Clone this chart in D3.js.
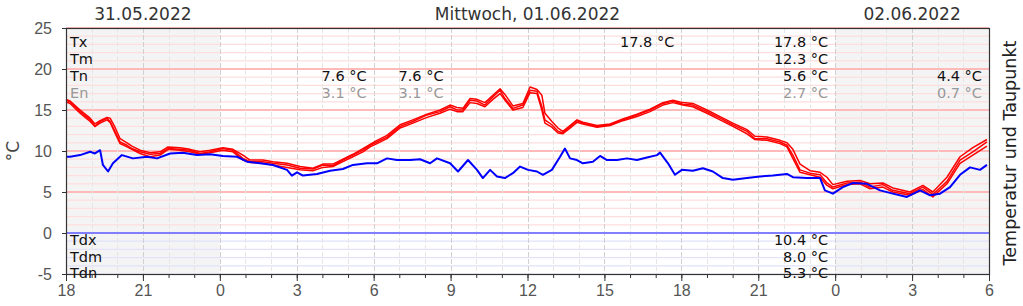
<!DOCTYPE html>
<html>
<head>
<meta charset="utf-8">
<script src="https://cdn.jsdelivr.net/npm/d3@7"></script>
<style>
  body { margin: 0; background: #fff; }
  svg { display: block; font-family: "DejaVu Sans", sans-serif; }
</style>
</head>
<body>
<div id="chart"></div>
<script>
// hours after 31.05.2022 18:00
var tempHours = [0.00, 0.16, 0.55, 0.94, 1.13, 1.33, 1.60, 1.72, 1.91, 2.11, 2.38, 2.57, 2.89, 3.28, 3.67, 3.98,
  4.45, 4.84, 5.23, 5.62, 6.12, 6.51, 6.90, 7.18, 7.68, 8.07, 8.62, 9.13, 9.63, 10.02, 10.41, 10.80,
  11.19, 11.58, 11.86, 12.13, 12.52, 13.03, 13.53, 14.08, 14.59, 14.98, 15.25, 15.48, 15.76, 16.03, 16.34, 16.65,
  16.93, 17.12, 17.43, 17.82, 18.10, 18.37, 18.56, 18.68, 18.95, 19.19, 19.38, 19.66, 19.93, 20.16, 20.71, 21.22,
  21.72, 22.27, 22.78, 23.28, 23.67, 24.06, 24.45, 25.00, 25.51, 26.01, 26.56, 26.87, 27.34, 27.85, 28.12, 28.35,
  28.63, 29.02, 29.41, 29.68, 29.91, 30.46, 30.97, 31.36, 31.86, 32.25, 32.92, 33.42, 33.81, 34.36, 34.87, 35.37, 35.92];

var tempMain = [16.2, 16.0, 14.8, 13.8, 13.0, 13.6, 14.0, 13.6, 12.4, 11.1, 10.7, 10.3, 9.9, 9.6, 9.7, 10.3,
  10.2, 10.1, 9.7, 9.9, 10.3, 10.1, 9.1, 8.7, 8.7, 8.5, 8.3, 7.9, 7.8, 8.3, 8.2, 8.9,
  9.5, 10.1, 10.7, 11.1, 11.7, 13.0, 13.6, 14.4, 14.8, 15.4, 15.0, 15.0, 16.2, 16.1, 15.6, 16.6,
  17.4, 16.4, 15.2, 15.6, 17.4, 17.3, 15.4, 13.8, 13.2, 12.4, 12.2, 13.0, 13.7, 13.4, 13.0, 13.2,
  13.8, 14.4, 15.0, 15.8, 16.1, 15.7, 15.6, 14.8, 14.0, 13.2, 12.4, 11.5, 11.5, 11.1, 10.7, 9.5,
  7.7, 7.3, 7.1, 6.1, 5.6, 6.1, 6.2, 5.6, 5.9, 5.2, 4.8, 5.6, 4.7, 6.3, 8.9, 9.9, 11.1];

var tempHigh = [16.3, 16.1, 15.0, 14.0, 13.3, 13.7, 14.1, 14.0, 12.9, 11.5, 11.0, 10.6, 10.1, 9.8, 9.9, 10.5,
  10.4, 10.2, 9.9, 10.1, 10.4, 10.2, 9.5, 8.9, 8.9, 8.7, 8.5, 8.1, 7.9, 8.4, 8.4, 9.0,
  9.6, 10.3, 10.8, 11.3, 11.9, 13.2, 13.8, 14.5, 15.0, 15.6, 15.3, 15.2, 16.4, 16.3, 15.9, 16.8,
  17.6, 16.9, 15.5, 15.8, 17.8, 17.5, 16.8, 14.6, 13.6, 12.8, 12.4, 13.1, 13.8, 13.5, 13.1, 13.3,
  13.9, 14.5, 15.1, 15.9, 16.2, 15.9, 15.8, 15.0, 14.2, 13.4, 12.6, 11.8, 11.7, 11.3, 11.0, 10.2,
  8.4, 7.6, 7.4, 6.8, 5.9, 6.3, 6.4, 6.0, 6.1, 5.5, 5.0, 5.8, 5.0, 6.8, 9.3, 10.4, 11.4];

var tempLow = [16.0, 15.8, 14.6, 13.6, 13.0, 13.4, 13.8, 13.5, 12.2, 10.9, 10.5, 10.2, 9.7, 9.3, 9.5, 10.2,
  10.1, 9.9, 9.6, 9.8, 10.1, 9.9, 8.9, 8.6, 8.5, 8.3, 8.0, 7.7, 7.6, 8.0, 8.1, 8.7,
  9.3, 9.9, 10.5, 10.9, 11.5, 12.8, 13.4, 14.1, 14.6, 15.1, 14.8, 14.8, 15.9, 15.8, 15.4, 16.3,
  17.0, 16.2, 15.0, 15.3, 17.1, 17.0, 15.0, 13.4, 12.9, 12.2, 12.1, 12.8, 13.5, 13.3, 12.9, 13.1,
  13.7, 14.2, 14.8, 15.6, 15.9, 15.6, 15.4, 14.6, 13.8, 13.0, 12.1, 11.4, 11.3, 10.9, 10.5, 9.1,
  7.4, 7.1, 6.8, 5.8, 5.4, 5.9, 6.0, 5.4, 5.6, 5.0, 4.6, 5.3, 4.4, 6.0, 8.5, 9.5, 10.6];

var dewHours = [0.00, 0.16, 0.55, 0.94, 1.13, 1.33, 1.44, 1.64, 1.83, 2.18, 2.61, 3.16, 3.55, 4.06, 4.56, 5.11,
  5.62, 6.12, 6.67, 7.06, 7.57, 8.07, 8.62, 8.81, 9.01, 9.24, 9.79, 10.30, 10.80, 11.19, 11.74, 12.13,
  12.52, 12.91, 13.42, 13.81, 14.20, 14.47, 14.98, 15.29, 15.68, 16.03, 16.26, 16.54, 16.81, 17.12, 17.43, 17.71,
  18.02, 18.37, 18.60, 18.95, 19.27, 19.46, 19.66, 19.93, 20.16, 20.55, 20.83, 21.10, 21.49, 21.88, 22.27, 22.66,
  23.05, 23.17, 23.48, 23.75, 24.02, 24.45, 24.84, 25.23, 25.62, 26.01, 26.56, 27.07, 27.57, 28.12, 28.35, 28.90,
  29.41, 29.60, 29.91, 30.30, 30.69, 31.24, 31.75, 32.25, 32.80, 33.31, 33.70, 34.09, 34.48, 34.87, 35.26, 35.65, 35.92];

var dewPoint = [9.3, 9.3, 9.5, 9.9, 9.7, 10.1, 8.3, 7.5, 8.5, 9.5, 9.1, 9.3, 9.1, 9.7, 9.8, 9.5,
  9.6, 9.4, 9.3, 8.7, 8.5, 8.3, 7.7, 7.0, 7.4, 7.0, 7.2, 7.6, 7.8, 8.3, 8.5, 8.5,
  9.1, 8.9, 8.9, 9.0, 8.5, 9.1, 8.5, 7.5, 8.9, 7.7, 6.7, 7.7, 6.9, 6.7, 7.3, 8.1,
  7.7, 7.5, 7.1, 7.7, 9.3, 10.3, 9.1, 8.9, 8.5, 8.7, 9.4, 8.9, 8.9, 9.1, 8.9, 9.2,
  9.5, 9.8, 8.5, 7.1, 7.7, 7.6, 7.9, 7.5, 6.7, 6.5, 6.7, 6.9, 7.0, 7.2, 6.8, 6.7,
  6.7, 5.2, 4.8, 5.6, 6.1, 6.0, 5.2, 4.8, 4.4, 5.2, 4.6, 4.8, 5.6, 7.1, 8.0, 7.7, 8.3];

var yTicks = [-5, 0, 5, 10, 15, 20, 25];
var dayTitles = ['31.05.2022', 'Mittwoch, 01.06.2022', '02.06.2022'];
var dayTitleHours = [3, 18, 33];
var shadedSpans = [[0, 6], [30, 36]];

var topRowNames = ['Tx', 'Tm', 'Tn', 'En'];
var bottomRowNames = ['Tdx', 'Tdm', 'Tdn'];
// annotation columns: hour the text ends at, row index, text
var annoHours = [12, 12, 15, 15, 24, 30, 30, 30, 30, 30, 30, 30, 36, 36];
var annoRows  = ['Tn', 'En', 'Tn', 'En', 'Tx', 'Tx', 'Tm', 'Tn', 'En', 'Tdx', 'Tdm', 'Tdn', 'Tn', 'En'];
var annoTexts = ['7.6 °C', '3.1 °C', '7.6 °C', '3.1 °C', '17.8 °C', '17.8 °C', '12.3 °C', '5.6 °C', '2.7 °C',
  '10.4 °C', '8.0 °C', '5.3 °C', '4.4 °C', '0.7 °C'];

var width = 1023, height = 306;
var margin = { left: 66, right: 34, top: 28, bottom: 32 };
var start = new Date(2022, 4, 31, 18, 0);
function toDate(h) { return new Date(start.getTime() + h * 3600 * 1000); }

var x = d3.scaleTime()
  .domain([toDate(0), toDate(36)])
  .range([margin.left, width - margin.right]);
var y = d3.scaleLinear()
  .domain([-5, 25])
  .range([height - margin.bottom, margin.top]);

var svg = d3.select('#chart').append('svg')
  .attr('width', width)
  .attr('height', height);

// shaded (non-main-day) background
svg.selectAll('.shade').data(shadedSpans).enter().append('rect')
  .attr('x', function (d) { return x(toDate(d[0])); })
  .attr('width', function (d) { return x(toDate(d[1])) - x(toDate(d[0])); })
  .attr('y', y(25))
  .attr('height', y(-5) - y(25))
  .attr('fill', '#f4f4f4');

// horizontal degree lines
var degrees = d3.range(-5, 26);
svg.selectAll('.hgrid').data(degrees.filter(function (d) { return d !== 0; })).enter().append('line')
  .attr('x1', x.range()[0]).attr('x2', x.range()[1])
  .attr('y1', function (d) { return y(d); })
  .attr('y2', function (d) { return y(d); })
  .attr('stroke', function (d) {
    if (d < 0) return '#e2e2fb';
    return d % 5 === 0 ? '#ffb9b9' : '#ffdede';
  })
  .attr('stroke-width', function (d) { return d > 0 && d % 5 === 0 ? 2 : 1.2; });

// vertical hour lines
var hours = d3.range(1, 36);
svg.selectAll('.vgrid').data(hours).enter().append('line')
  .attr('x1', function (d) { return Math.round(x(toDate(d))) + 0.5; })
  .attr('x2', function (d) { return Math.round(x(toDate(d))) + 0.5; })
  .attr('y1', y(25)).attr('y2', y(-5))
  .attr('stroke', function (d) { return d % 3 === 0 ? '#d0d0d0' : '#e6e6e6'; })
  .attr('stroke-dasharray', '5,2');

// zero line
svg.append('line')
  .attr('x1', x.range()[0]).attr('x2', x.range()[1])
  .attr('y1', y(0)).attr('y2', y(0))
  .attr('stroke', '#8080ff')
  .attr('stroke-width', 2);

// data lines
var tLine = function (vals) {
  return d3.line()
    .x(function (d, i) { return x(toDate(tempHours[i])); })
    .y(function (d) { return y(d); })(vals);
};
[tempHigh, tempLow, tempMain].forEach(function (vals) {
  svg.append('path')
    .attr('d', tLine(vals))
    .attr('fill', 'none')
    .attr('stroke', '#ff0000')
    .attr('stroke-width', 1.5)
    .attr('stroke-linejoin', 'round');
});

svg.append('path')
  .attr('d', d3.line()
    .x(function (d, i) { return x(toDate(dewHours[i])); })
    .y(function (d) { return y(d); })(dewPoint))
  .attr('fill', 'none')
  .attr('stroke', '#0000ff')
  .attr('stroke-width', 2)
  .attr('stroke-linejoin', 'round');

// frame
svg.append('rect')
  .attr('x', x.range()[0] + 0.5).attr('y', y(25) + 0.5)
  .attr('width', x.range()[1] - x.range()[0])
  .attr('height', y(-5) - y(25))
  .attr('fill', 'none')
  .attr('stroke', '#333')
  .attr('stroke-width', 1.2);

// axes
var yAxis = svg.append('g')
  .attr('transform', 'translate(' + margin.left + ',0)')
  .call(d3.axisLeft(y).tickValues(yTicks).tickSize(4).tickPadding(10)
    .tickFormat(function (d) { return String(d); }));
yAxis.select('.domain').attr('stroke', '#333');
yAxis.selectAll('.tick line').attr('stroke', '#333');
yAxis.selectAll('text').attr('fill', '#555').style('font-size', '16px');

var xAxisMinor = svg.append('g')
  .attr('transform', 'translate(0,' + y(-5) + ')')
  .call(d3.axisBottom(x).ticks(d3.timeHour.every(1)).tickSize(4).tickFormat(''));
xAxisMinor.select('.domain').remove();
xAxisMinor.selectAll('.tick line').attr('stroke', '#333');

var xAxis = svg.append('g')
  .attr('transform', 'translate(0,' + y(-5) + ')')
  .call(d3.axisBottom(x).ticks(d3.timeHour.every(3)).tickSize(7).tickPadding(4)
    .tickFormat(d3.timeFormat('%-H')));
xAxis.select('.domain').attr('stroke', '#333');
xAxis.selectAll('.tick line').attr('stroke', '#333');
xAxis.selectAll('text').attr('fill', '#555').style('font-size', '16px');

// day titles
svg.selectAll('.daytitle').data(dayTitles).enter().append('text')
  .attr('x', function (d, i) { return x(toDate(dayTitleHours[i])); })
  .attr('y', 20)
  .attr('text-anchor', 'middle')
  .attr('fill', '#333')
  .style('font-size', '17px')
  .text(function (d) { return d; });

// axis titles
svg.append('text')
  .attr('transform', 'translate(19,' + y(10) + ') rotate(-90)')
  .attr('text-anchor', 'middle')
  .attr('fill', '#444')
  .style('font-size', '17px')
  .text('°C');

svg.append('text')
  .attr('transform', 'translate(1016,' + ((y(25) + y(-5)) / 2 + 2) + ') rotate(-90)')
  .attr('text-anchor', 'middle')
  .attr('fill', '#222')
  .style('font-size', '17.5px')
  .text('Temperatur und Taupunkt');

// row labels
var rowY = { Tx: 47, Tm: 64, Tn: 81, En: 98, Tdx: 245, Tdm: 262, Tdn: 278 };
var rowColor = function (r) { return r === 'En' ? '#999' : '#111'; };

svg.selectAll('.rowname').data(topRowNames.concat(bottomRowNames)).enter().append('text')
  .attr('x', margin.left + 4)
  .attr('y', function (d) { return rowY[d]; })
  .attr('fill', rowColor)
  .style('font-size', '14.5px')
  .text(function (d) { return d; });

svg.selectAll('.anno').data(annoTexts).enter().append('text')
  .attr('x', function (d, i) { return x(toDate(annoHours[i])) - 7; })
  .attr('y', function (d, i) { return rowY[annoRows[i]]; })
  .attr('text-anchor', 'end')
  .attr('fill', function (d, i) { return rowColor(annoRows[i]); })
  .style('font-size', '14.5px')
  .text(function (d) { return d; });
</script>
</body>
</html>
